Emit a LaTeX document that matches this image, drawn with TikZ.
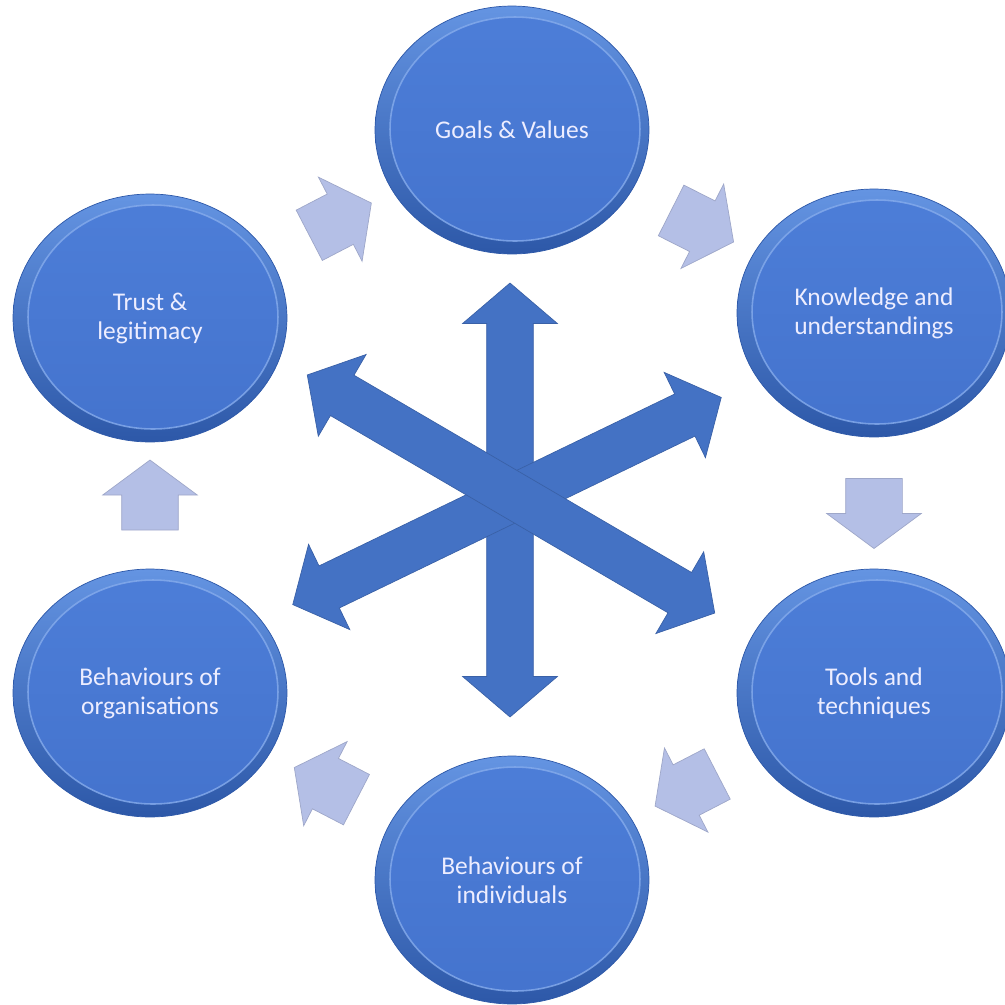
\documentclass[tikz,border=0pt]{standalone}
\usepackage{fontspec}
\setmainfont{Carlito}
\usepackage{tikz}
\usetikzlibrary{shapes.geometric, shapes.arrows}

\definecolor{ringtop}{HTML}{6494E2}
\definecolor{ringbottom}{HTML}{2D58A8}
\definecolor{disctop}{HTML}{4D7ED8}
\definecolor{discbottom}{HTML}{4473CD}
\definecolor{discedge}{HTML}{86ACEC}
\definecolor{flow}{HTML}{B4BFE6}
\definecolor{flowedge}{HTML}{9EA7C9}
\definecolor{hub}{HTML}{4472C4}

\begin{document}
\begin{tikzpicture}[x=0.02cm, y=-0.02cm,
    themenode/.style={ellipse, minimum width=5.48cm, minimum height=4.96cm,
      top color=ringtop, bottom color=ringbottom, draw=ringbottom, thin,
      text=white!93!blue, align=center, font=\fontsize{14.5}{16.5}\selectfont,
      path picture={\draw[discedge, draw opacity=0.8, top color=disctop,
        bottom color=discbottom, line width=0.9pt]
        ([xshift=0.06cm, yshift=0.02cm]path picture bounding box.center)
        ellipse [x radius=2.5cm, y radius=2.24cm];}},
    flowarrow/.style={single arrow, draw=flowedge, fill=flow, thin,
      minimum height=1.4cm, inner xsep=0pt, inner ysep=0.56cm,
      single arrow head extend=0.38cm, single arrow tip angle=107,
      sloped, allow upside down},
    hubarrow/.style={double arrow, draw=hub!85!black, fill=hub, thin,
      inner xsep=0pt, inner ysep=0.46cm, double arrow head extend=0.48cm,
      double arrow tip angle=99}, ]
    \useasboundingbox (0,0) rectangle (1005,1005);
    % Nodes
    \node[themenode] (goals) at (512,130) {Goals \& Values};
    \node[themenode] (knowledge) at (874,313) {Knowledge and\\understandings};
    \node[themenode] (tools) at (874,693) {Tools and\\techniques};
    \node[themenode] (individuals) at (512,880) {Behaviours of\\individuals};
    \node[themenode] (organisations) at (150,693) {Behaviours of\\organisations};
    \node[themenode] (trust) at (150,318) {Trust \&\\legitimacy};
    % Centre arrows
    \node[hubarrow, minimum height=8.68cm, rotate=90] (hub_vert) at (510,500) {};
    \node[hubarrow, minimum height=9.52cm, rotate=25.8] (hub_rise) at (507,501) {};
    \node[hubarrow, minimum height=9.44cm, rotate=-30.3] (hub_fall) at (511,494) {};
    % Lines
    \path (trust) -- node[flowarrow] (trust_goals) {} (goals);
    \path (goals) -- node[flowarrow] (goals_knowledge) {} (knowledge);
    \path (knowledge) -- node[flowarrow] (knowledge_tools) {} (tools);
    \path (tools) -- node[flowarrow, pos=0.48] (tools_individuals) {} (individuals);
    \path (individuals) -- node[flowarrow, pos=0.47] (individuals_organisations) {} (organisations);
    \path (organisations) -- node[flowarrow] (organisations_trust) {} (trust);
  \end{tikzpicture}
\end{document}
